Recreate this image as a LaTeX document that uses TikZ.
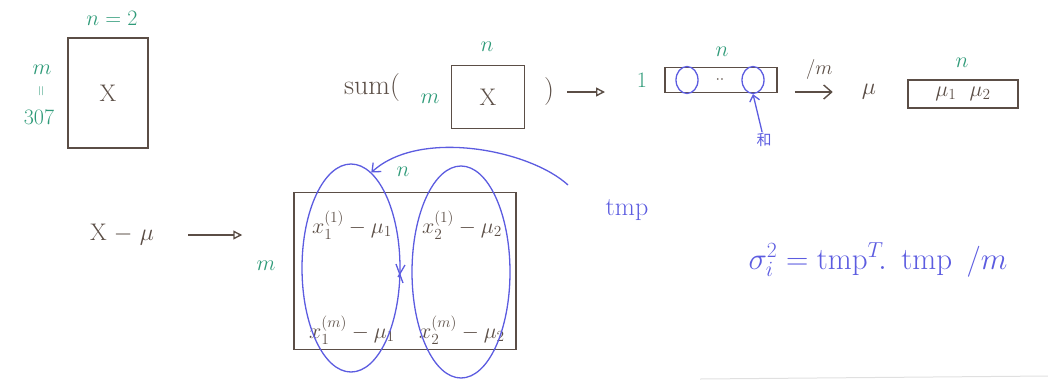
\RequirePackage{fix-cm}
\documentclass[tikz,border=0pt]{standalone}
\usepackage{amsmath}
\usepackage{fontspec}
\newfontfamily\cjk{Noto Sans CJK SC}
\usetikzlibrary{positioning,arrows.meta,shapes.geometric}
\definecolor{ink}{HTML}{5B4E46}
\definecolor{dimgreen}{HTML}{2E9A78}
\definecolor{pen}{HTML}{5C5CE0}
\tikzset{
  matbox/.style={draw=ink,line width=1.5pt,inner sep=0pt},
  dimlabel/.style={text=dimgreen,inner sep=1pt,font=\fontsize{22}{24}\selectfont},
  inktext/.style={text=ink,inner sep=1pt,font=\fontsize{24}{26}\selectfont},
  celltext/.style={text=ink,inner sep=1pt,font=\fontsize{22}{24}\selectfont},
  pentext/.style={text=pen,inner sep=1pt,font=\fontsize{26}{28}\selectfont},
  sumarrow/.style={draw=ink,line width=1.4pt,-{Triangle[open,length=9pt,width=9pt]}},
  divarrow/.style={draw=ink,line width=1.4pt,-{Straight Barb[length=8pt,width=14pt]}},
  penline/.style={draw=pen,line width=1.3pt}
}

\begin{document}
\begin{tikzpicture}[x=1pt,y=-1pt]
\useasboundingbox (0,0) rectangle (1048,381);
% data matrix
\node[matbox,minimum width=80,minimum height=110,inktext] (data) at (108,93) {X};
\node[dimlabel] (datan) at (112,18) {$n=2$};
\node[dimlabel] (datam) at (42,70) {$m$};
\node[dimlabel,rotate=90,font=\fontsize{14}{16}\selectfont] (dataeq) at (42,91) {$=$};
\node[dimlabel] (datasize) at (39,117) {307};

% column sum
\node[inktext,font=\fontsize{28}{30}\selectfont] (sumopen) at (372,88) {sum(};
\node[matbox,minimum width=73,minimum height=63,inktext] (sumdata) at (488,97) {X};
\node[dimlabel] (summ) at (430,99) {$m$};
\node[dimlabel] (sumn) at (487,47) {$n$};
\node[inktext,font=\fontsize{28}{30}\selectfont] (sumclose) at (549,92) {)};
\node[dimlabel] (rowone) at (642,80) {1};
\node[matbox,minimum width=112,minimum height=25] (rowsum) at (721,80) {};
\node[dimlabel] (rown) at (722,52) {$n$};
\node[draw=pen,line width=1.3pt,ellipse,minimum width=22,minimum height=27] (colfirst) at (687,80) {};
\node[draw=pen,line width=1.3pt,ellipse,minimum width=22,minimum height=27] (collast) at (753,80) {};
\node[inktext,font=\fontsize{16}{18}\selectfont] (rowdots) at (720,80) {$\cdot\cdot$};
\node[pentext,font=\cjk\fontsize{15}{17}\selectfont] (colsum) at (764,140) {和};
\draw[sumarrow] (sumclose) -- (sumclose -| rowone) [shorten <=12pt,shorten >=37pt];
\draw[penline,-{Straight Barb[length=6pt,width=10pt]}] (colsum) -- (collast.south);

% mean
\node[inktext] (mean) at (869,92) {$\mu$};
\node[matbox,minimum width=110,minimum height=28,celltext] (meanrow) at (963,94) {$\mu_1\ \ \mu_2$};
\node[dimlabel] (meann) at (962,63) {$n$};
\draw[divarrow] (rowsum.east |- mean) -- (mean) [shorten <=17pt,shorten >=28pt]
  node[midway,above=11pt,inktext,font=\fontsize{20}{22}\selectfont] (divm) {$/m$};

% centred matrix
\node[inktext] (xmu) at (122,235) {X $-$ $\mu$};
\node[matbox,minimum width=222,minimum height=157] (centred) at (405,271) {};
\node[dimlabel] (centn) at (403,172) {$n$};
\node[dimlabel] (centm) at (266,266) {$m$};
\node[celltext] (cellaa) at (352,225) {$x^{(1)}_1-\mu_1$};
\node[celltext] (cellab) at (462,225) {$x^{(1)}_2-\mu_2$};
\node[celltext] (cellba) at (352,330) {$x^{(m)}_1-\mu_1$};
\node[celltext] (cellbb) at (462,330) {$x^{(m)}_2-\mu_2$};
\draw[sumarrow] (xmu) -- (xmu -| centred.west) [shorten <=33pt,shorten >=51pt];

% columns as tmp
\node[draw=pen,line width=1.3pt,ellipse,minimum width=98,minimum height=208] (tmpone) at (351,268) {};
\node[draw=pen,line width=1.3pt,ellipse,minimum width=98,minimum height=212] (tmptwo) at (461,272) {};
\draw[penline] (396,264) -- (403,283) (405,265) -- (398,277);
\coordinate (tmptail) at (568,185);
\node[pentext] (tmp) at (627,210) {tmp};
\draw[penline,-{Straight Barb[length=7pt,width=12pt]}] (tmptail) .. controls (530,150) and (420,128) .. (tmpone.78);

% variance
\node[pentext,font=\fontsize{31}{33}\selectfont] (variance) at (878,260) {$\sigma^2_i=\mathrm{tmp}^T\!.\ \,\mathrm{tmp}\ \,/m$};
\draw[black!12,line width=1pt] (700,379) -- (1048,376);
\end{tikzpicture}
\end{document}
